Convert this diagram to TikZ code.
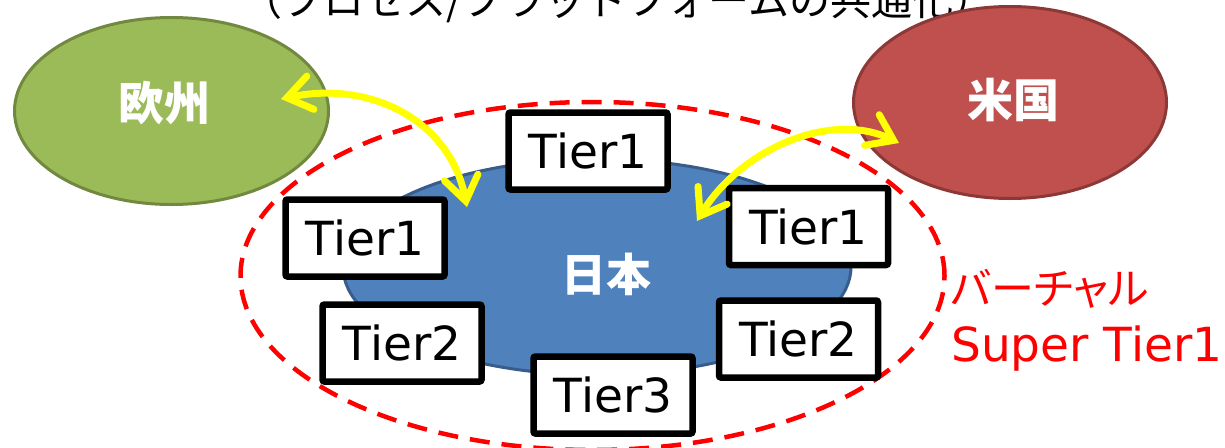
\documentclass[tikz,border=0pt]{standalone}
\usepackage{fontspec}
\setmainfont{DejaVu Sans}
\newfontfamily\cjk{Noto Sans CJK JP}
\newfontfamily\cjkp[RawFeature=+palt]{Noto Sans CJK JP}
\usetikzlibrary{arrows.meta,shapes.geometric}
\definecolor{eugreen}{HTML}{9BBB59}
\definecolor{eugreenD}{HTML}{71893F}
\definecolor{usred}{HTML}{C0504D}
\definecolor{usredD}{HTML}{8C3836}
\definecolor{jpblue}{HTML}{4F81BD}
\definecolor{jpblueD}{HTML}{385D8A}
\definecolor{yel}{HTML}{FFFF00}
\tikzset{
  region/.style={ellipse, draw, line width=3pt, inner sep=0pt},
  regtext/.style={text=white, inner sep=0pt, font=\cjk\bfseries\fontsize{46}{50}\selectfont},
  tierbox/.style={draw=black, fill=white, line width=6.5pt, rounded corners=2pt,
    minimum width=159pt, minimum height=77pt, inner sep=0pt,
    font=\fontsize{47}{52}\selectfont},
  yarrow/.style={draw=yel, line width=7pt, line cap=round,
    {Straight Barb[length=24pt,width=34pt,line cap=round]}-{Straight Barb[length=24pt,width=34pt,line cap=round]}},
  superring/.style={draw=red, line width=4.5pt, dash pattern=on 20pt off 12pt}
}
\begin{document}
\begin{tikzpicture}[x=1pt,y=-1pt]
\useasboundingbox (0,0) rectangle (1225,447);
\begin{scope}
\clip (0,0) rectangle (1225,447);
% title (cut off at top)
\node[anchor=base, font=\cjk\fontsize{41}{45}\selectfont, inner sep=0pt] (title) at (618,15) {（プロセス/プラットフォームの共通化）};
% Japan
\node[region, fill=jpblue, draw=jpblueD, minimum width=508pt, minimum height=216pt] (jp) at (597,267) {};
\node[regtext, font=\cjk\bfseries\fontsize{45}{50}\selectfont] (jptext) at (606,274) {日本};
% Europe
\node[region, fill=eugreen, draw=eugreenD, minimum width=314pt, minimum height=187pt] (eu) at (171.5,111) {};
\node[regtext] (eutext) at (164,103) {欧州};
% USA
\node[region, fill=usred, draw=usredD, minimum width=313pt, minimum height=192pt] (us) at (1010,102.5) {};
\node[regtext] (ustext) at (1013,100) {米国};
% virtual super tier1 ring
\node[ellipse, superring, minimum width=704pt, minimum height=348pt, inner sep=0pt] (ring) at (592.5,276) {};
% tier boxes
\node[tierbox] (t1top) at (588,151) {Tier1};
\node[tierbox] (t1left) at (365,238) {Tier1};
\node[tierbox] (t2left) at (402,343) {Tier2};
\node[tierbox] (t3) at (613,395) {Tier3};
\node[tierbox] (t1right) at (808.5,226.5) {Tier1};
\node[tierbox] (t2right) at (798.5,339) {Tier2};
% label
\node[anchor=base west, text=red, font=\cjkp\fontsize{43}{47}\selectfont, inner sep=0pt] (lab1) at (951,304) {バーチャル};
\node[anchor=base west, text=red, font=\fontsize{47}{52}\selectfont, inner sep=0pt] (lab2) at (951,361) {Super Tier1};
% arrows
\coordinate (euTip) at (281,99);
\coordinate (jpTipL) at (467,207);
\coordinate (jpTipR) at (697,221);
\coordinate (usTip) at (899,143);
\draw[yarrow] (euTip) .. controls (370,80) and (450,120) .. (jpTipL);
\draw[yarrow] (jpTipR) .. controls (740,150) and (830,110) .. (usTip);
\end{scope}
\end{tikzpicture}
\end{document}
